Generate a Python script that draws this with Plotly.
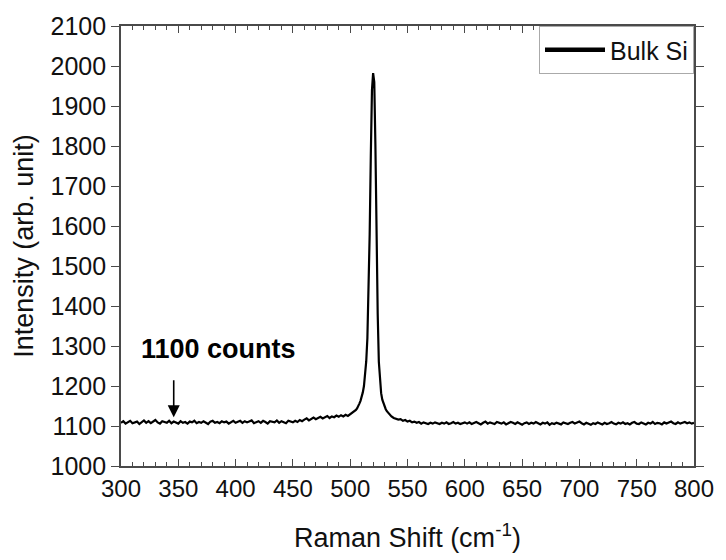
import plotly.graph_objects as go

# ---- data (Raman spectrum of bulk Si) ----
shift_a = list(range(300, 352, 2))
int_a = [1108,1112,1106,1110,1113,1107,1109,1111,1105,1110,1114,1108,1112,1107,1110,1115,1109,1106,1112,1110,1108,1113,1107,1111,1109,1106]

shift_b = list(range(352, 402, 2))
int_b = [1112,1108,1110,1106,1111,1109,1113,1107,1110,1108,1112,1109,1105,1111,1113,1108,1110,1107,1112,1109,1111,1106,1110,1113,1108]

shift_c = list(range(402, 452, 2))
int_c = [1110,1113,1108,1112,1109,1111,1114,1107,1110,1112,1108,1113,1110,1106,1112,1111,1109,1114,1108,1112,1110,1107,1113,1111,1109]

shift_d = list(range(452, 506, 2))
int_d = [1113,1110,1115,1112,1116,1119,1114,1118,1121,1117,1120,1123,1119,1122,1125,1120,1124,1122,1126,1123,1127,1124,1128,1125,1129,1133,1137]

shift_peak = list(range(505, 536, 1))
int_peak = [1140,1144,1149,1156,1163,1172,1184,1200,1224,1262,1320,1420,1580,1780,1940,1982,1960,1800,1560,1380,1260,1208,1182,1166,1156,1148,1142,1137,1133,1129,1126]

shift_e = list(range(536, 602, 2))
int_e = [1124,1120,1118,1116,1117,1113,1115,1111,1113,1109,1111,1108,1110,1106,1109,1107,1105,1108,1106,1109,1107,1105,1108,1106,1109,1105,1107,1110,1106,1108,1105,1107,1109]

shift_f = list(range(602, 702, 2))
int_f = [1106,1109,1105,1108,1110,1107,1104,1108,1111,1106,
         1109,1107,1105,1110,1108,1106,1109,1104,1107,1110,
         1108,1105,1109,1106,1103,1107,1109,1105,1108,1106,
         1110,1107,1104,1108,1106,1109,1103,1107,1105,1108,
         1106,1104,1109,1107,1105,1108,1110,1106,1108,1111]

shift_g = list(range(702, 802, 2))
int_g = [1107,1104,1108,1106,1103,1107,1105,1109,1106,1104,
         1108,1105,1107,1110,1106,1104,1108,1106,1109,1105,
         1107,1104,1108,1110,1106,1105,1109,1107,1104,1108,
         1106,1110,1105,1108,1107,1104,1109,1106,1108,1111,
         1107,1105,1109,1106,1108,1110,1107,1109,1106,1108]

raman_shift = shift_a + shift_b + shift_c + shift_d + shift_peak + shift_e + shift_f + shift_g
intensity = int_a + int_b + int_c + int_d + int_peak + int_e + int_f + int_g
assert len(raman_shift) == len(intensity)

series_name = "Bulk Si"
x_ticks = [300, 350, 400, 450, 500, 550, 600, 650, 700, 750, 800]
y_ticks = [1000, 1100, 1200, 1300, 1400, 1500, 1600, 1700, 1800, 1900, 2000, 2100]

annot_text = "1100 counts"
arrow_x = 346
arrow_tip_y = 1122
arrow_tail_y = 1218
label_x = 385
label_y = 1292

FONT = "Liberation Sans, Arial, sans-serif"
AXC = "#4a4a4a"
TXT = "#111111"

fig = go.Figure()
fig.add_trace(go.Scatter(x=raman_shift, y=intensity, mode="lines",
                         line=dict(color="black", width=2.2),
                         showlegend=False, name=series_name))
fig.add_trace(go.Scatter(x=[None], y=[None], mode="lines",
                         line=dict(color="black", width=4.5),
                         name=series_name, showlegend=True))

fig.add_annotation(x=arrow_x, y=arrow_tip_y, ax=arrow_x, ay=arrow_tail_y,
                   xref="x", yref="y", axref="x", ayref="y",
                   text="", showarrow=True, arrowhead=2, arrowsize=1.5,
                   arrowwidth=1.6, arrowcolor="black")
fig.add_annotation(x=label_x, y=label_y, xref="x", yref="y",
                   text="<b>" + annot_text + "</b>", showarrow=False,
                   font=dict(family=FONT, size=27, color="black"))

fig.update_layout(
    width=726, height=560,
    margin=dict(l=121, r=24, t=22, b=89),
    paper_bgcolor="white", plot_bgcolor="white",
    font=dict(family=FONT, size=24, color=TXT),
    legend=dict(x=1, y=1, xanchor="right", yanchor="top",
                bgcolor="white", bordercolor="#aaaaaa", borderwidth=1,
                itemwidth=60,
                font=dict(family=FONT, size=25, color=TXT),
                tracegroupgap=0),
    xaxis=dict(range=[300, 800], tickvals=x_ticks, ticktext=[str(v) for v in x_ticks],
               showgrid=False, zeroline=False,
               showline=True, linecolor=AXC, linewidth=1.6, mirror="ticks",
               ticks="inside", ticklen=7, tickwidth=1.4, tickcolor=AXC,
               minor=dict(ticks="inside", ticklen=4, dtick=10, tickwidth=1.2, tickcolor=AXC),
               tickfont=dict(family=FONT, size=24, color=TXT),
               title=dict(text="Raman Shift (cm<sup>-1</sup>)", standoff=28,
                          font=dict(family=FONT, size=27, color=TXT))),
    yaxis=dict(range=[1000, 2100], tickvals=y_ticks, ticktext=[str(v) for v in y_ticks],
               showgrid=False, zeroline=False,
               showline=True, linecolor=AXC, linewidth=1.6, mirror="ticks",
               ticks="outside", ticklen=8, tickwidth=1.4, tickcolor=AXC,
               tickfont=dict(family=FONT, size=25, color=TXT),
               title=dict(text="Intensity (arb. unit)", standoff=9,
                          font=dict(family=FONT, size=27, color=TXT))),
)

fig.write_html("out.html")
